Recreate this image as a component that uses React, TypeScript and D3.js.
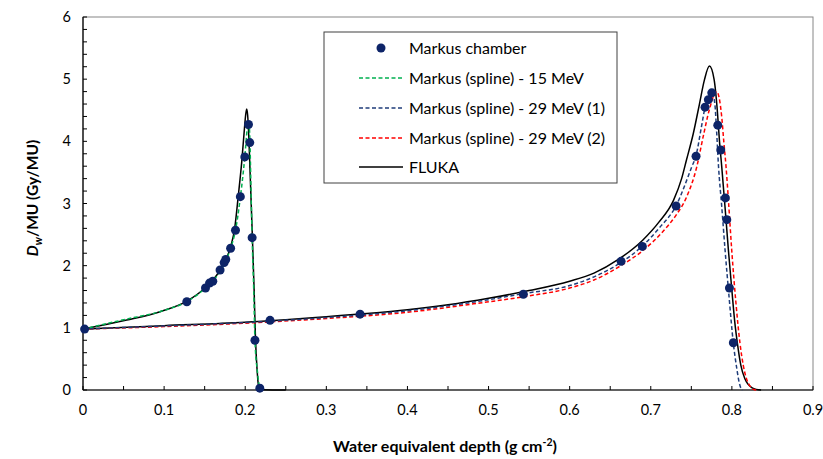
import React from "react";
import * as d3 from "d3";

// Markus chamber measurements [depth, dose]
const markusDepth = [0.002, 0.128, 0.151, 0.156, 0.16, 0.169, 0.174, 0.176, 0.182, 0.188, 0.194, 0.1995, 0.204, 0.2056, 0.2085, 0.212, 0.218,
  0.2306, 0.3416, 0.5429, 0.6634, 0.6896, 0.7312, 0.7558, 0.7669, 0.771, 0.7752, 0.7826, 0.7863, 0.792, 0.7937, 0.797, 0.8018];
const markusDose = [0.98, 1.42, 1.64, 1.72, 1.75, 1.93, 2.05, 2.1, 2.28, 2.57, 3.11, 3.75, 4.27, 3.98, 2.45, 0.8, 0.03,
  1.12, 1.22, 1.54, 2.07, 2.31, 2.96, 3.76, 4.55, 4.67, 4.78, 4.26, 3.86, 3.09, 2.74, 1.64, 0.76];

// Markus (spline) - 15 MeV
const spline15Depth = [0, 0.05, 0.1, 0.128, 0.151, 0.16, 0.17, 0.176, 0.182, 0.188, 0.194, 0.1995, 0.2025, 0.2045, 0.2058, 0.207, 0.2085, 0.2105, 0.212, 0.215, 0.218, 0.22];
const spline15Dose = [0.98, 1.13, 1.28, 1.42, 1.64, 1.75, 1.93, 2.08, 2.28, 2.57, 3.1, 3.75, 4.2, 4.3, 4.0, 3.3, 2.45, 1.6, 0.8, 0.3, 0.03, 0];

// Markus (spline) - 29 MeV (1)
const spline29aDepth = [0, 0.1, 0.2, 0.3, 0.4, 0.4895, 0.543, 0.6, 0.63, 0.663, 0.69, 0.71, 0.731, 0.7505, 0.756, 0.762, 0.767, 0.771, 0.7752, 0.779, 0.781, 0.7835, 0.7875, 0.7916, 0.7965, 0.8018, 0.806, 0.809, 0.8115, 0.813];
const spline29aDose = [0.98, 1.03, 1.085, 1.165, 1.275, 1.43, 1.55, 1.68, 1.82, 2.05, 2.32, 2.6, 2.96, 3.59, 3.78, 4.2, 4.55, 4.72, 4.8, 4.6, 4.2, 3.6, 2.95, 2.25, 1.5, 0.75, 0.35, 0.12, 0.02, 0];

// Markus (spline) - 29 MeV (2)
const spline29bDepth = [0, 0.1, 0.2, 0.3, 0.4, 0.4895, 0.543, 0.6, 0.63, 0.663, 0.69, 0.715, 0.731, 0.744, 0.7567, 0.765, 0.772, 0.7813, 0.785, 0.7875, 0.79, 0.7928, 0.796, 0.7998, 0.805, 0.81, 0.814, 0.818, 0.822, 0.8265, 0.83];
const spline29bDose = [0.98, 1.02, 1.075, 1.15, 1.25, 1.4, 1.5, 1.64, 1.77, 2.0, 2.24, 2.55, 2.81, 3.1, 3.59, 4.1, 4.5, 4.8, 4.65, 4.39, 4.0, 3.59, 3.0, 2.25, 1.4, 0.75, 0.4, 0.18, 0.07, 0.01, 0];

// FLUKA - 15 MeV branch
const fluka15Depth = [0, 0.054, 0.095, 0.127, 0.152, 0.165, 0.175, 0.182, 0.187, 0.1915, 0.1957, 0.199, 0.2005, 0.2018, 0.203, 0.2045, 0.206, 0.2075, 0.209, 0.211, 0.2126, 0.2145, 0.2163, 0.219, 0.222, 0.25];
const fluka15Dose = [0.98, 1.125, 1.26, 1.42, 1.66, 1.85, 2.07, 2.3, 2.6, 3.13, 3.67, 4.2, 4.42, 4.52, 4.42, 4.05, 3.5, 2.95, 2.4, 1.6, 0.85, 0.35, 0.08, 0.02, 0.005, 0];

// FLUKA - 29 MeV branch
const fluka29Depth = [0, 0.1, 0.2, 0.25, 0.3, 0.35, 0.4, 0.45, 0.5, 0.55, 0.6, 0.63, 0.66, 0.69, 0.71, 0.728, 0.738, 0.744, 0.7525, 0.76, 0.766, 0.7723, 0.778, 0.782, 0.7846, 0.7875, 0.7915, 0.7957, 0.8, 0.8035, 0.8068, 0.811, 0.816, 0.82, 0.8245, 0.83, 0.836];
const fluka29Dose = [0.98, 1.035, 1.09, 1.13, 1.18, 1.23, 1.29, 1.37, 1.475, 1.6, 1.75, 1.88, 2.1, 2.41, 2.7, 3.05, 3.4, 3.7, 4.13, 4.6, 4.98, 5.21, 5.0, 4.5, 4.02, 3.59, 2.95, 2.25, 1.6, 1.1, 0.75, 0.4, 0.18, 0.09, 0.04, 0.01, 0];

const xTicks = [0, 0.1, 0.2, 0.3, 0.4, 0.5, 0.6, 0.7, 0.8, 0.9];
const yTicks = [0, 1, 2, 3, 4, 5, 6];

const legendLabels = ["Markus chamber", "Markus (spline) - 15 MeV", "Markus (spline) - 29 MeV (1)", "Markus (spline) - 29 MeV (2)", "FLUKA"];

const DOT = "#0d2468";
const GREEN = "#00b050";
const BLUE = "#1f3d7a";
const RED = "#ff0000";
const FONT = "Lato, 'Open Sans', sans-serif";

export default function App() {
  const W = 823, H = 459;
  const L = 83, R = 813, T = 17, B = 390;
  const x = d3.scaleLinear().domain([0, 0.9]).range([L, R]);
  const y = d3.scaleLinear().domain([0, 6]).range([B, T]);

  const mk = (xs: number[], ys: number[]) =>
    d3.line<number>().x((_, i) => x(xs[i])).y((_, i) => y(ys[i])).curve(d3.curveMonotoneX)(xs) || "";

  const xMinor = d3.range(0, 0.9001, 0.05);
  const yMinor = d3.range(0, 6.001, 0.2);

  const lx = 324, ly = 32, lw = 293, lh = 151;
  const rowY = [48, 78, 108, 138, 167];

  return (
    <svg width={W} height={H} style={{ position: "absolute", left: 0, top: 0, background: "#fff" }} fontFamily={FONT}>
      {/* plot border */}
      <rect x={L} y={T} width={R - L} height={B - T} fill="none" stroke="#868686" strokeWidth={1} />
      {/* axes */}
      <line x1={L} x2={L} y1={T} y2={B} stroke="#000" strokeWidth={1.2} />
      <line x1={L} x2={R} y1={B} y2={B} stroke="#000" strokeWidth={1.2} />
      {xMinor.map((v, i) => (
        <line key={"xm" + i} x1={x(v)} x2={x(v)} y1={B} y2={B - 4} stroke="#000" strokeWidth={1} />
      ))}
      {yMinor.map((v, i) => (
        <line key={"ym" + i} x1={L} x2={L + 4} y1={y(v)} y2={y(v)} stroke="#000" strokeWidth={1} />
      ))}
      {xTicks.map((v) => (
        <text key={"xt" + v} x={x(v)} y={B + 25} textAnchor="middle" fontSize={14.5} fill="#000">{v}</text>
      ))}
      {yTicks.map((v) => (
        <text key={"yt" + v} x={L - 12} y={y(v) + 5} textAnchor="end" fontSize={14.5} fill="#000">{v}</text>
      ))}
      {/* axis titles */}
      <text x={445} y={452} textAnchor="middle" fontSize={16} fontWeight="bold" fill="#000">
        Water equivalent depth (g cm<tspan dy={-6} fontSize={10.5}>-2</tspan><tspan dy={6}>)</tspan>
      </text>
      <text transform="translate(38,198) rotate(-90)" textAnchor="middle" fontSize={15.5} fontWeight="bold" fill="#000">
        <tspan fontStyle="italic">D</tspan><tspan fontStyle="italic" dy={4} fontSize={11}>w</tspan><tspan dy={-4}>/MU (Gy/MU)</tspan>
      </text>

      {/* curves */}
      <g fill="none">
        <path d={mk(fluka15Depth, fluka15Dose)} stroke="#000" strokeWidth={1.5} />
        <path d={mk(fluka29Depth, fluka29Dose)} stroke="#000" strokeWidth={1.5} />
        <path d={mk(spline29bDepth, spline29bDose)} stroke={RED} strokeWidth={1.5} strokeDasharray="4,2.5" />
        <path d={mk(spline29aDepth, spline29aDose)} stroke={BLUE} strokeWidth={1.5} strokeDasharray="4,2.5" />
        <path d={mk(spline15Depth, spline15Dose)} stroke={GREEN} strokeWidth={1.5} strokeDasharray="4,2.5" />
      </g>
      {/* points */}
      {markusDepth.map((d, i) => (
        <circle key={"p" + i} cx={x(d)} cy={y(markusDose[i])} r={4.5} fill={DOT} />
      ))}

      {/* legend */}
      <rect x={lx} y={ly} width={lw} height={lh} fill="#fff" stroke="#404040" strokeWidth={1} />
      <circle cx={381} cy={rowY[0]} r={4.5} fill={DOT} />
      <line x1={359} x2={403} y1={rowY[1]} y2={rowY[1]} stroke={GREEN} strokeWidth={1.5} strokeDasharray="4,2.5" />
      <line x1={359} x2={403} y1={rowY[2]} y2={rowY[2]} stroke={BLUE} strokeWidth={1.5} strokeDasharray="4,2.5" />
      <line x1={359} x2={403} y1={rowY[3]} y2={rowY[3]} stroke={RED} strokeWidth={1.5} strokeDasharray="4,2.5" />
      <line x1={359} x2={403} y1={rowY[4]} y2={rowY[4]} stroke="#000" strokeWidth={1.5} />
      {legendLabels.map((t, i) => (
        <text key={"lg" + i} x={409} y={rowY[i] + 5.5} fontSize={16} fill="#000">{t}</text>
      ))}
    </svg>
  );
}
